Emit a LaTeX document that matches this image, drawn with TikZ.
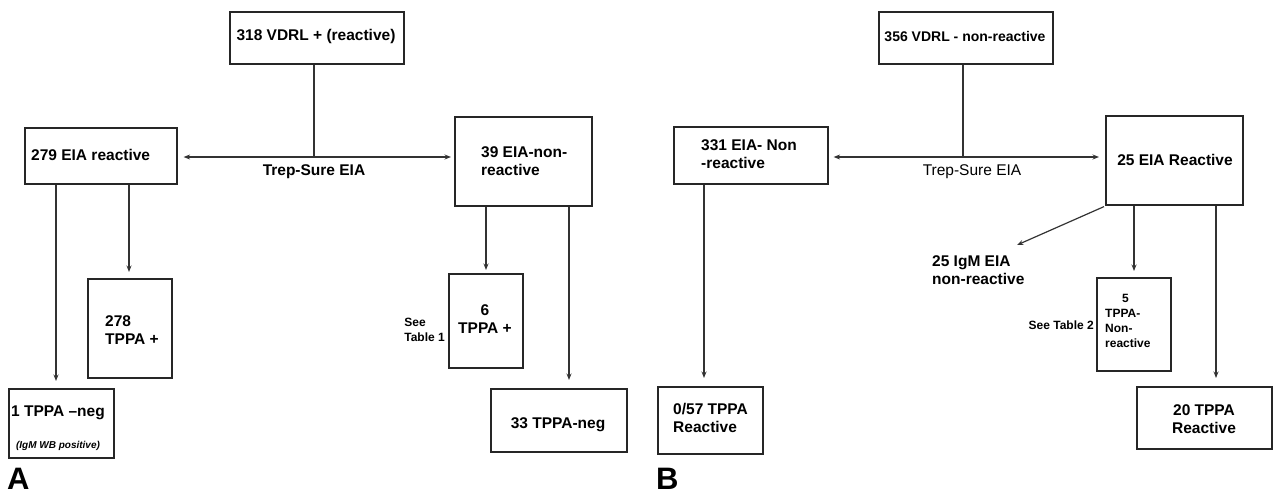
\documentclass[tikz,border=0pt]{standalone}
\usepackage{fontspec}
\setmainfont{Liberation Sans}
\usetikzlibrary{arrows.meta}
\begin{document}
\begin{tikzpicture}[x=1pt,y=-1pt,
  box/.style={draw=black!85, line width=1.6pt, inner sep=0pt, anchor=north west},
  ln/.style={draw=black!80, line width=1.2pt},
  arr/.style={ln, -{Stealth[length=6.5pt,width=5pt]}},
  dbl/.style={ln, {Stealth[length=6.5pt,width=5pt]}-{Stealth[length=6.5pt,width=5pt]}},
  tx/.style={font=\bfseries\fontsize{15.5}{18.5}\selectfont, inner sep=0pt, align=left},
  txr/.style={font=\fontsize{15.5}{18.5}\selectfont, inner sep=0pt},
  sm/.style={font=\bfseries\fontsize{12}{15}\selectfont, inner sep=0pt, align=left},
  big/.style={font=\bfseries\fontsize{31}{31}\selectfont, inner sep=0pt, anchor=south west}]
\useasboundingbox (0,0) rectangle (1276,496);

% ---------------- Panel A ----------------
\node[box, minimum width=174pt, minimum height=52pt] (vA) at (229,11) {};
\node[tx] (vAt) at (316,36) {318 VDRL + (reactive)};
\node[box, minimum width=152pt, minimum height=56pt] (eA) at (24,127) {};
\node[tx, anchor=west] (eAt) at (31,155) {279 EIA reactive};
\node[box, minimum width=137pt, minimum height=89pt] (nA) at (454,116) {};
\node[tx, anchor=west] (nAt) at (481,161) {39 EIA-non-\\reactive};
\node[box, minimum width=84pt, minimum height=99pt] (tA) at (87,278) {};
\node[tx, anchor=west] (tAt) at (105,330) {278\\TPPA +};
\node[box, minimum width=105pt, minimum height=69pt] (oA) at (8,388) {};
\node[tx] (oAt) at (58,413) {1 TPPA --neg};
\node[font=\bfseries\itshape\fontsize{10}{12}\selectfont, inner sep=0pt] (oAs) at (58,446) {(IgM WB positive)};
\node[box, minimum width=74pt, minimum height=94pt] (sA) at (448,273) {};
\node[tx, align=center] (sAt) at (485,319) {6\\TPPA +};
\node[sm, anchor=east] (seeA) at (445,330) {See\\Table 1};
\node[box, minimum width=136pt, minimum height=63pt] (gA) at (490,388) {};
\node[tx] (gAt) at (558,425) {33 TPPA-neg};
\coordinate (jA) at (314,157);
\node[tx] (trA) at (314,172) {Trep-Sure EIA};
\node[big] (lA) at (7,490) {A};

\draw[ln] (vA.south -| jA) -- (jA);
\draw[dbl, shorten <=6pt, shorten >=3pt] (eA.east |- jA) -- (nA.west |- jA);
\draw[arr, shorten >=7pt] ([xshift=32pt]eA.south west) -- ([xshift=32pt]eA.south west |- oA.north);
\draw[arr, shorten >=6pt] ([xshift=105pt]eA.south west) -- ([xshift=105pt]eA.south west |- tA.north);
\draw[arr, shorten >=3pt] ([xshift=32pt]nA.south west) -- ([xshift=32pt]nA.south west |- sA.north);
\draw[arr, shorten >=8pt] ([xshift=115pt]nA.south west) -- ([xshift=115pt]nA.south west |- gA.north);

% ---------------- Panel B ----------------
\node[box, minimum width=174pt, minimum height=52pt] (vB) at (878,11) {};
\node[tx, font=\bfseries\fontsize{14}{17}\selectfont] (vBt) at (965,37) {356 VDRL - non-reactive};
\node[box, minimum width=154pt, minimum height=57pt] (nB) at (673,126) {};
\node[tx, anchor=west] (nBt) at (701,154) {331 EIA- Non\\-reactive};
\node[box, minimum width=137pt, minimum height=89pt] (rB) at (1105,115) {};
\node[tx] (rBt) at (1175,160) {25 EIA Reactive};
\node[tx, anchor=west] (igm) at (932,270) {25 IgM EIA\\non-reactive};
\coordinate (igtip) at (1017,245);
\node[box, minimum width=74pt, minimum height=93pt] (pB) at (1096,277) {};
\node[sm, anchor=north west] (pBt) at (1105,294) {\hspace*{17pt}5\\TPPA-\\Non-\\reactive};
\node[sm, anchor=east] (seeB) at (1094,325) {See Table 2};
\node[box, minimum width=135pt, minimum height=62pt] (wB) at (1136,386) {};
\node[tx, align=center] (wBt) at (1204,419) {20 TPPA\\Reactive};
\node[box, minimum width=105pt, minimum height=67pt] (oB) at (657,386) {};
\node[tx, anchor=west] (oBt) at (673,418) {0/57 TPPA\\Reactive};
\coordinate (jB) at (963,157);
\node[txr] (trB) at (972,172) {Trep-Sure EIA};
\node[big] (lB) at (656,490) {B};

\draw[ln] (vB.south -| jB) -- (jB);
\draw[dbl, shorten <=5pt, shorten >=6pt] (nB.east |- jB) -- (rB.west |- jB);
\draw[arr] ([xshift=-1pt,yshift=-1pt]rB.south west) -- (igtip);
\draw[arr, shorten >=6pt] ([xshift=29pt]rB.south west) -- ([xshift=29pt]rB.south west |- pB.north);
\draw[arr, shorten >=8pt] ([xshift=111pt]rB.south west) -- ([xshift=111pt]rB.south west |- wB.north);
\draw[arr, shorten >=8pt] ([xshift=31pt]nB.south west) -- ([xshift=31pt]nB.south west |- oB.north);
\end{tikzpicture}
\end{document}
